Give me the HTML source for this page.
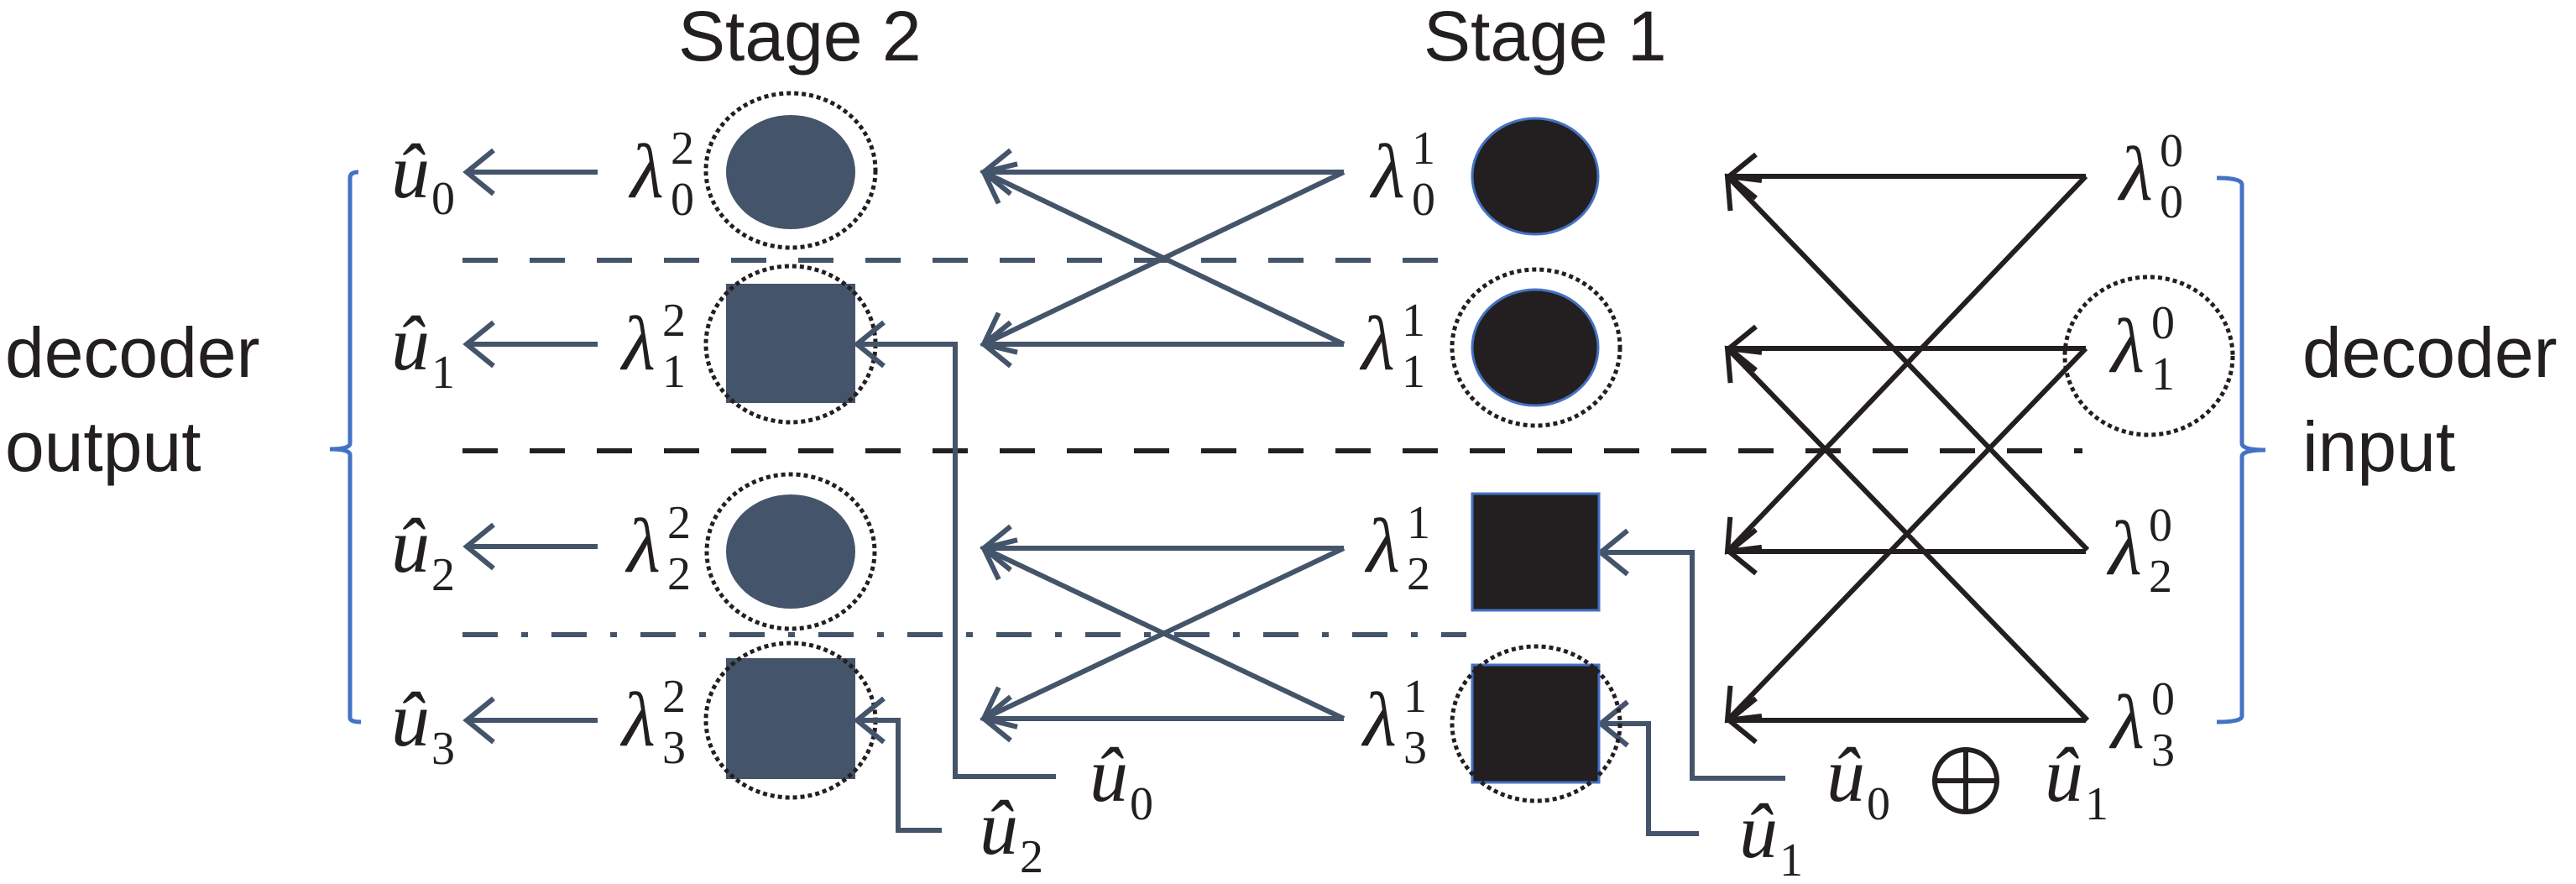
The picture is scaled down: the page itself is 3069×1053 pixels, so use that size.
<!DOCTYPE html>
<html><head><meta charset="utf-8"><style>
html,body{margin:0;padding:0;background:#fff;}
svg{display:block;}
.t{font-family:"Liberation Sans",sans-serif;font-size:84px;fill:#231F20;}
.m{font-family:"Liberation Serif",serif;font-style:italic;font-size:92px;fill:#231F20;}
.s{font-family:"Liberation Serif",serif;font-size:56px;fill:#231F20;}
</style></head><body>
<svg width="3069" height="1053" viewBox="0 0 3069 1053" xmlns="http://www.w3.org/2000/svg">
<defs>
<marker id="as" markerUnits="userSpaceOnUse" markerWidth="80" markerHeight="80" refX="0" refY="0" viewBox="-40 -40 80 80" orient="auto"><path d="M-32,-26 L0,0 L-32,26" fill="none" stroke="#44546A" stroke-width="6"/></marker>
<marker id="ab" markerUnits="userSpaceOnUse" markerWidth="80" markerHeight="80" refX="0" refY="0" viewBox="-40 -40 80 80" orient="auto"><path d="M-32,-26 L0,0 L-32,26" fill="none" stroke="#231F20" stroke-width="6"/></marker>
</defs>

<text class="t" x="808" y="72">Stage 2</text>
<text class="t" x="1696" y="72">Stage 1</text>
<text class="t" x="6" y="449">decoder</text>
<text class="t" x="6" y="561">output</text>
<text class="t" x="2743" y="449">decoder</text>
<text class="t" x="2743" y="561">input</text>

<path d="M427,205 Q417,205 417,212 L417,528 Q417,535 393,535 Q417,535 417,542 L417,855 Q417,860 430,860" fill="none" stroke="#4472C4" stroke-width="5"/>
<path d="M2641,212 Q2671,212 2671,220 L2671,528 Q2671,536 2699,536 Q2671,536 2671,544 L2671,853 Q2671,860 2641,860" fill="none" stroke="#4472C4" stroke-width="5"/>

<line x1="551" y1="310" x2="1745" y2="310" stroke="#44546A" stroke-width="6" stroke-dasharray="42 38"/>
<line x1="551" y1="537" x2="2481" y2="537" stroke="#231F20" stroke-width="6" stroke-dasharray="42 38"/>
<line x1="551" y1="756" x2="1747" y2="756" stroke="#44546A" stroke-width="6" stroke-dasharray="42 28 8 28"/>

<g stroke="#44546A" stroke-width="6" marker-end="url(#as)">
<line x1="712" y1="205" x2="556" y2="205"/>
<line x1="712" y1="410" x2="556" y2="410"/>
<line x1="712" y1="651" x2="556" y2="651"/>
<line x1="712" y1="858" x2="556" y2="858"/>
</g>

<g fill="#44546A">
<ellipse cx="942" cy="205" rx="77" ry="68"/>
<rect x="865" y="338" width="154" height="142"/>
<ellipse cx="942" cy="657" rx="77" ry="68"/>
<rect x="865" y="784" width="154" height="144"/>
</g>
<g fill="none" stroke="#231F20" stroke-width="5" stroke-dasharray="5 4">
<ellipse cx="942" cy="203" rx="101" ry="92"/>
<ellipse cx="942" cy="410" rx="101" ry="93"/>
<ellipse cx="942" cy="657" rx="100" ry="92"/>
<ellipse cx="942" cy="858" rx="101" ry="92"/>
</g>

<g stroke="#44546A" stroke-width="6" fill="none" marker-end="url(#as)">
<line x1="1601" y1="205" x2="1172" y2="205"/>
<line x1="1601" y1="410" x2="1172" y2="410"/>
<line x1="1601" y1="205" x2="1172" y2="410"/>
<line x1="1601" y1="410" x2="1172" y2="205"/>
<line x1="1601" y1="653" x2="1172" y2="653"/>
<line x1="1601" y1="856" x2="1172" y2="856"/>
<line x1="1601" y1="653" x2="1172" y2="856"/>
<line x1="1601" y1="856" x2="1172" y2="653"/>
<polyline points="1258,925 1138,925 1138,410 1021,410"/>
<polyline points="1122,989 1070,989 1070,858 1021,858"/>
<polyline points="2127,927 2016,927 2016,658 1907,658"/>
<polyline points="2024,993 1964,993 1964,862 1907,862"/>
</g>

<g fill="#231F20" stroke="#4472C4" stroke-width="3">
<ellipse cx="1829" cy="210" rx="75" ry="69"/>
<ellipse cx="1829" cy="414" rx="75" ry="69"/>
<rect x="1754" y="588" width="151" height="139"/>
<rect x="1754" y="792" width="151" height="140"/>
</g>
<g fill="none" stroke="#231F20" stroke-width="5" stroke-dasharray="5 4">
<ellipse cx="1830" cy="414" rx="100" ry="93"/>
<ellipse cx="1830" cy="862" rx="100" ry="92"/>
<ellipse cx="2560" cy="424" rx="100" ry="94"/>
</g>

<g stroke="#231F20" stroke-width="6" fill="none" marker-end="url(#ab)">
<line x1="2485" y1="210" x2="2060" y2="210"/>
<line x1="2485" y1="415" x2="2060" y2="415"/>
<line x1="2485" y1="657" x2="2060" y2="657"/>
<line x1="2485" y1="858" x2="2060" y2="858"/>
<line x1="2485" y1="210" x2="2058" y2="657"/>
<line x1="2485" y1="415" x2="2058" y2="858"/>
<line x1="2487" y1="655" x2="2058" y2="210"/>
<line x1="2487" y1="858" x2="2058" y2="415"/>
</g>
<circle cx="2342" cy="930" r="37" fill="none" stroke="#231F20" stroke-width="6"/>
<line x1="2305" y1="930" x2="2379" y2="930" stroke="#231F20" stroke-width="6"/>
<line x1="2342" y1="893" x2="2342" y2="967" stroke="#231F20" stroke-width="6"/>

<g>
<text class="m" x="466" y="235">û</text><text class="s" x="514" y="255">0</text>
<text class="m" x="466" y="440">û</text><text class="s" x="514" y="462">1</text>
<text class="m" x="466" y="681">û</text><text class="s" x="514" y="703">2</text>
<text class="m" x="466" y="888">û</text><text class="s" x="514" y="910">3</text>
<text class="m" x="1298" y="954">û</text><text class="s" x="1346" y="976">0</text>
<text class="m" x="1167" y="1017">û</text><text class="s" x="1215" y="1039">2</text>
<text class="m" x="2072" y="1021">û</text><text class="s" x="2120" y="1043">1</text>
<text class="m" x="2176" y="954">û</text><text class="s" x="2224" y="976">0</text>
<text class="m" x="2436" y="954">û</text><text class="s" x="2484" y="976">1</text>
</g>

<g>
<text class="m" x="751" y="235">λ</text><text class="s" x="799" y="195">2</text><text class="s" x="799" y="256">0</text>
<text class="m" x="741" y="440">λ</text><text class="s" x="789" y="400">2</text><text class="s" x="789" y="461">1</text>
<text class="m" x="747" y="681">λ</text><text class="s" x="795" y="641">2</text><text class="s" x="795" y="702">2</text>
<text class="m" x="741" y="888">λ</text><text class="s" x="789" y="848">2</text><text class="s" x="789" y="909">3</text>

<text class="m" x="1634" y="235">λ</text><text class="s" x="1682" y="195">1</text><text class="s" x="1682" y="256">0</text>
<text class="m" x="1622" y="440">λ</text><text class="s" x="1670" y="400">1</text><text class="s" x="1670" y="461">1</text>
<text class="m" x="1628" y="681">λ</text><text class="s" x="1676" y="641">1</text><text class="s" x="1676" y="702">2</text>
<text class="m" x="1624" y="888">λ</text><text class="s" x="1672" y="848">1</text><text class="s" x="1672" y="909">3</text>

<text class="m" x="2525" y="238">λ</text><text class="s" x="2573" y="198">0</text><text class="s" x="2573" y="259">0</text>
<text class="m" x="2515" y="443">λ</text><text class="s" x="2563" y="403">0</text><text class="s" x="2563" y="464">1</text>
<text class="m" x="2512" y="684">λ</text><text class="s" x="2560" y="644">0</text><text class="s" x="2560" y="705">2</text>
<text class="m" x="2515" y="891">λ</text><text class="s" x="2563" y="851">0</text><text class="s" x="2563" y="912">3</text>
</g>
</svg>
</body></html>
